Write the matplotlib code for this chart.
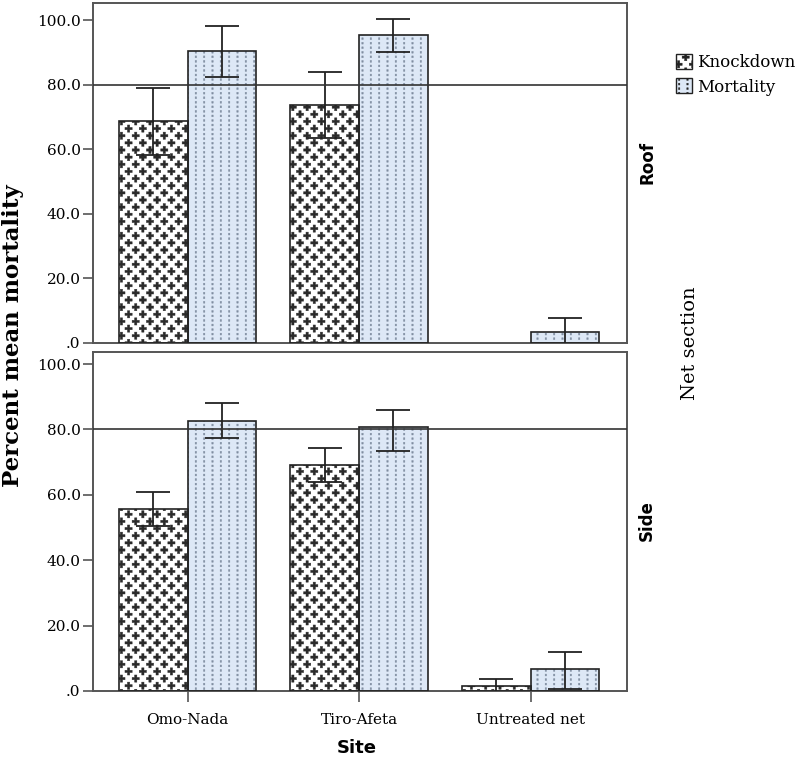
import numpy as np
import matplotlib
matplotlib.use("Agg")
import matplotlib.pyplot as plt
from matplotlib import hatch as mhatch
from matplotlib.path import Path
from matplotlib.patches import Patch

# ---------------- data ----------------
sites = ["Omo-Nada", "Tiro-Afeta", "Untreated net"]
sections = ["Roof", "Side"]
series = ["Knockdown", "Mortality"]

roof_knockdown = [68.6, 73.6, np.nan]
roof_knockdown_lo = [58.1, 63.4, np.nan]
roof_knockdown_hi = [78.9, 83.9, np.nan]
roof_mortality = [90.4, 95.3, 3.4]
roof_mortality_lo = [82.3, 90.1, -1.0]
roof_mortality_hi = [98.1, 100.3, 7.8]

side_knockdown = [55.8, 69.0, 1.5]
side_knockdown_lo = [50.6, 63.8, -0.5]
side_knockdown_hi = [61.0, 74.2, 3.7]
side_mortality = [82.5, 80.7, 6.7]
side_mortality_lo = [77.3, 73.3, 0.6]
side_mortality_hi = [88.0, 85.9, 12.0]

reference_level = 80.0
yticks = [0, 20, 40, 60, 80, 100]
ytick_labels = [".0", "20.0", "40.0", "60.0", "80.0", "100.0"]

# ---------------- custom hatches ----------------
MOVETO, LINETO, CLOSE = Path.MOVETO, Path.LINETO, Path.CLOSEPOLY


class PlusHatch(mhatch.HatchPatternBase):
    """Staggered lattice of filled plus signs, used with '*'."""
    def __init__(self, hatch, density):
        self.count = hatch.count('*')
        a, w = 0.036, 0.0115
        self.shape = np.array([(-w, -a), (w, -a), (w, -w), (a, -w), (a, w), (w, w),
                               (w, a), (-w, a), (-w, w), (-a, w), (-a, -w), (-w, -w),
                               (-w, -a)])
        self.codes = np.array([MOVETO] + [LINETO] * 11 + [CLOSE], dtype=Path.code_type)
        n = 7
        s = 1.0 / n
        pts = [(i * s, j * s) for i in range(n + 1) for j in range(n + 1)]
        pts += [(i * s + s / 2, j * s + s / 2) for i in range(n) for j in range(n)]
        self.pts = np.array(pts)
        self.num_vertices = len(self.pts) * len(self.shape) if self.count else 0

    def set_vertices_and_codes(self, vertices, codes):
        vertices[:] = np.concatenate([self.shape + p for p in self.pts])
        codes[:] = np.concatenate([self.codes for _ in self.pts])


class DotColumnHatch(mhatch.HatchPatternBase):
    """Vertical columns of small dots, used with 'O'."""
    def __init__(self, hatch, density):
        self.count = hatch.count('O')
        hw, hh = 0.007, 0.009
        self.shape = np.array([(-hw, -hh), (hw, -hh), (hw, hh), (-hw, hh), (-hw, -hh)])
        self.codes = np.array([MOVETO, LINETO, LINETO, LINETO, CLOSE], dtype=Path.code_type)
        nc, nr = 12, 22
        pts = [(i / nc + 0.5 / nc, j / nr + 0.5 / nr) for i in range(nc) for j in range(nr)]
        self.pts = np.array(pts)
        self.num_vertices = len(self.pts) * len(self.shape) if self.count else 0

    def set_vertices_and_codes(self, vertices, codes):
        vertices[:] = np.concatenate([self.shape + p for p in self.pts])
        codes[:] = np.concatenate([self.codes for _ in self.pts])


mhatch._hatch_types = [PlusHatch, DotColumnHatch]
plt.rcParams['hatch.linewidth'] = 0.3

# ---------------- figure ----------------
W, H = 797, 761
fig = plt.figure(figsize=(W / 100, H / 100), dpi=100)
L, R = 92.7, 627.3
ax_top = fig.add_axes([L / W, 1 - 342.7 / H, (R - L) / W, 340.0 / H])
ax_bot = fig.add_axes([L / W, 1 - 691.0 / H, (R - L) / W, 339.3 / H])

serif = "DejaVu Serif"
sans = "DejaVu Sans"
x = np.arange(len(sites))
width = 0.40
kd_fill, kd_hatch = "white", "#2a2a2a"
mo_fill, mo_hatch = "#dde8f6", "#7f8da0"
spine_col = "#555555"

panels = [
    (ax_top, roof_knockdown, roof_knockdown_lo, roof_knockdown_hi,
     roof_mortality, roof_mortality_lo, roof_mortality_hi, 105.4),
    (ax_bot, side_knockdown, side_knockdown_lo, side_knockdown_hi,
     side_mortality, side_mortality_lo, side_mortality_hi, 103.8),
]

for ax, kd, kdl, kdh, mo, mol, moh, ytop in panels:
    kd = np.array(kd); mo = np.array(mo)
    xk = x - width / 2
    xm = x + width / 2
    ax.bar(xk, kd, width, color=kd_fill, hatch='*', edgecolor=kd_hatch, linewidth=0, zorder=2)
    ax.bar(xm, mo, width, color=mo_fill, hatch='O', edgecolor=mo_hatch, linewidth=0, zorder=2)
    ax.bar(xk, kd, width, fill=False, edgecolor="#222222", linewidth=1.2, zorder=3)
    ax.bar(xm, mo, width, fill=False, edgecolor="#222222", linewidth=1.2, zorder=3)
    kerr = np.array([kd - np.array(kdl), np.array(kdh) - kd])
    merr = np.array([mo - np.array(mol), np.array(moh) - mo])
    ax.errorbar(xk, kd, yerr=kerr, fmt='none', ecolor="#222222", elinewidth=1.3,
                capsize=12, capthick=1.3, zorder=4)
    ax.errorbar(xm, mo, yerr=merr, fmt='none', ecolor="#222222", elinewidth=1.3,
                capsize=12, capthick=1.3, zorder=4)
    ax.axhline(reference_level, color="#333333", linewidth=1.2, zorder=5)

    ax.set_xlim(-0.553, 2.564)
    ax.set_ylim(0, ytop)
    ax.set_yticks(yticks)
    ax.set_yticklabels(ytick_labels, fontfamily=serif, fontsize=11)
    ax.tick_params(axis='y', direction='out', length=7.2, width=1.2, color=spine_col, pad=1.5)
    for sp in ax.spines.values():
        sp.set_color(spine_col)
        sp.set_linewidth(1.4)

ax_top.set_xticks([])
ax_bot.set_xticks(x)
ax_bot.set_xticklabels(sites, fontfamily=serif, fontsize=11)
ax_bot.tick_params(axis='x', direction='out', length=8, width=1.2, color=spine_col, pad=8)

fig.text(647 / W, 1 - 163 / H, sections[0], rotation=90, ha='center', va='center',
         fontfamily=sans, fontweight='bold', fontsize=12)
fig.text(647 / W, 1 - 521 / H, sections[1], rotation=90, ha='center', va='center',
         fontfamily=sans, fontweight='bold', fontsize=12)
fig.text(690 / W, 1 - 343 / H, "Net section", rotation=90, ha='center', va='center',
         fontfamily=serif, fontsize=14)
fig.text(13 / W, 1 - 336 / H, "Percent mean mortality", rotation=90, ha='center',
         va='center', fontfamily=serif, fontweight='bold', fontsize=16.5)
fig.text(357 / W, 1 - 748 / H, "Site", ha='center', va='center',
         fontfamily=sans, fontweight='bold', fontsize=13)

handles = [Patch(facecolor=kd_fill, hatch='*', edgecolor="#222222", linewidth=1.0),
           Patch(facecolor=mo_fill, hatch='O', edgecolor="#222222", linewidth=1.0)]
fig.legend(handles, series, loc='upper left', bbox_to_anchor=(664 / W, 1 - 42 / H),
           frameon=False, prop={'family': serif, 'size': 12}, handlelength=1.0,
           handleheight=1.0, handletextpad=0.3, labelspacing=0.45, borderpad=0.2)

fig.savefig("out.png", dpi=100)
